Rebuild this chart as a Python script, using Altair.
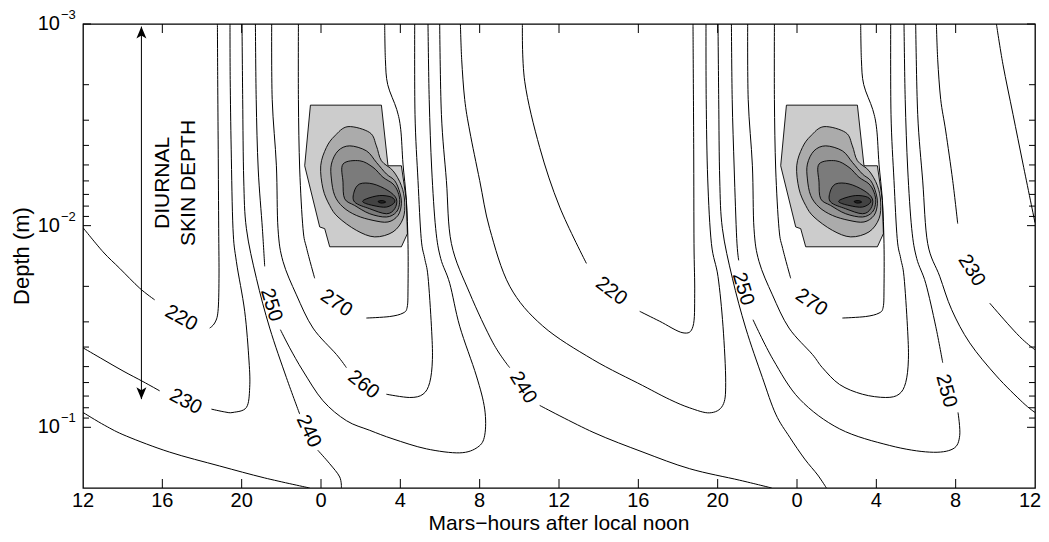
import altair as alt
import pandas as pd

W, H = 952, 464
FONT = "Liberation Sans"

# ---------------- axis values ----------------
x_tick_hours = [0, 4, 8, 12, 16, 20, 24, 28, 32, 36, 40, 44, 48]
x_tick_labels = ["12", "16", "20", "0", "4", "8", "12", "16", "20", "0", "4", "8", "12"]
y_major = [0.001, 0.01, 0.1]
y_major_exp = ["\u22123", "\u22122", "\u22121"]
y_minor = [0.002, 0.003, 0.004, 0.005, 0.006, 0.007, 0.008, 0.009,
           0.02, 0.03, 0.04, 0.05, 0.06, 0.07, 0.08, 0.09]

# ---------------- contour lines (hours after left edge, depth in m) ----------------
c220a_h = [0.0, 1.008, 1.85, 2.86, 3.615]
c220a_d = [0.01023, 0.01348, 0.01628, 0.02043, 0.02333]
c220b_h = [6.388, 6.640, 6.807, 6.857, 6.842, 6.817, 6.792, 6.777]
c220b_d = [0.0322, 0.0304, 0.0266, 0.01824, 0.01035, 0.004175, 0.001888, 0.001]
c220c_h = [22.155, 22.271, 23.027, 24.036, 25.382]
c220c_d = [0.001, 0.001924, 0.004096, 0.00809, 0.01539]
c220d_h = [28.069, 29.078, 30.252, 30.757, 30.842, 30.807, 30.792, 30.767, 30.757]
c220d_d = [0.0266, 0.0298, 0.0340, 0.03155, 0.02163, 0.01227, 0.004175, 0.001504, 0.001]
c220e_h = [46.055, 46.387, 46.891, 47.396, 48.0]
c220e_d = [0.001, 0.001592, 0.002808, 0.00495, 0.00967]

c230a_h = [0.0, 1.008, 2.017, 3.025, 3.867]
c230a_d = [0.04035, 0.04608, 0.05256, 0.05934, 0.06596]
c230b_h = [6.474, 7.145, 7.563, 8.239, 8.405, 8.370, 8.153, 7.735, 7.563, 7.472, 7.422, 7.412]
c230b_d = [0.08126, 0.0839, 0.0844, 0.0797, 0.0635, 0.0469, 0.0266, 0.0151, 0.01035, 0.004175, 0.001888, 0.001]
c230c_h = [19.029, 19.094, 19.246, 19.498, 20.002, 20.506, 21.515, 23.179, 25.699, 28.221, 29.582,
           30.590, 31.599, 32.254, 32.405, 32.269, 32.017, 31.685, 31.498, 31.422, 31.412]
c230c_d = [0.001, 0.001504, 0.002368, 0.003392, 0.005981, 0.01035, 0.01997, 0.03144, 0.04608, 0.0621, 0.0728,
           0.0801, 0.0848, 0.0779, 0.0600, 0.03155, 0.01789, 0.01227, 0.005868, 0.002368, 0.001]
c230d_h = [43.029, 43.095, 43.246, 43.498, 43.851, 44.103]
c230d_d = [0.001, 0.001504, 0.002368, 0.003392, 0.005981, 0.00977]
c230e_h = [45.717, 46.725, 47.381, 48.0]
c230e_d = [0.02423, 0.03144, 0.03673, 0.04128]

c240a_h = [0.0, 1.094, 2.203, 4.371, 6.893, 9.161, 11.430]
c240a_d = [0.0844, 0.0978, 0.1107, 0.1328, 0.1556, 0.1783, 0.2]
c240b_h = [8.017, 8.052, 8.103, 8.239, 8.743, 9.414, 10.256, 10.926]
c240b_d = [0.001, 0.002368, 0.005868, 0.01035, 0.01824, 0.0322, 0.0567, 0.086]
c240c_h = [11.834, 12.439, 12.943, 13.029]
c240c_d = [0.1298, 0.1516, 0.1763, 0.2]
c240d_h = [17.985, 18.071, 18.323, 18.575, 19.498, 20.673, 21.515]
c240d_d = [0.001, 0.002808, 0.005981, 0.01227, 0.02163, 0.03814, 0.05062]
c240e_h = [23.027, 25.715, 28.236, 30.590, 33.111, 34.725]
c240e_d = [0.0779, 0.1058, 0.1328, 0.1605, 0.183, 0.2]
c240f_h = [32.017, 32.053, 32.103, 32.239, 32.743, 33.414, 34.256, 34.927, 35.633, 36.389, 37.044, 37.483]
c240f_d = [0.001, 0.002368, 0.005868, 0.01035, 0.01824, 0.0322, 0.0567, 0.086, 0.1120, 0.1437, 0.1724, 0.2]
c240g_h = [41.985, 42.086, 42.338, 42.590, 43.195, 43.8, 44.708, 46.055, 47.381, 48.0]
c240g_d = [0.001, 0.002808, 0.006, 0.01227, 0.01783, 0.02613, 0.03814, 0.05563, 0.0753, 0.0844]

c250a_h = [8.693, 8.733, 8.834, 9.045, 9.161]
c250a_d = [0.001, 0.002368, 0.005239, 0.01035, 0.01592]
c250b_h = [9.953, 10.422, 11.093, 12.101, 13.281, 14.456, 15.630, 17.314, 18.994, 19.901, 20.254, 20.254,
           19.836, 18.994, 18.489, 18.035, 17.783, 17.582, 17.456, 17.395]
c250b_d = [0.0328, 0.04035, 0.05256, 0.07387, 0.0927, 0.1035, 0.1142, 0.1279, 0.1339, 0.1255, 0.1095, 0.08126,
           0.05563, 0.03155, 0.01931, 0.01454, 0.01035, 0.005239, 0.002368, 0.001]
c250c_h = [32.693, 32.733, 32.834, 32.960, 33.061]
c250c_d = [0.001, 0.002368, 0.005239, 0.01159, 0.01487]
c250d_h = [33.782, 34.791, 36.137, 38.154, 40.675, 42.691, 43.866, 44.204, 44.118]
c250d_d = [0.02927, 0.04608, 0.07254, 0.1019, 0.1231, 0.1328, 0.1279, 0.1099, 0.0844]
c250e_h = [43.347, 42.994, 42.490, 42.036, 41.784, 41.582, 41.456, 41.396]
c250e_d = [0.04783, 0.03155, 0.01931, 0.01454, 0.01035, 0.005239, 0.002368, 0.001]

c260a_h = [9.514, 9.540, 9.751, 9.832, 10.084, 10.760, 11.597, 12.777, 13.281]
c260a_d = [0.001, 0.002368, 0.005047, 0.01035, 0.01504, 0.02204, 0.0322, 0.04353, 0.05062]
c260b_h = [15.298, 16.472, 17.143, 17.481, 17.617, 17.567, 17.395, 17.229, 17.052, 16.891, 16.740, 16.725]
c260b_d = [0.06855, 0.07115, 0.06855, 0.0600, 0.04608, 0.03155, 0.01789, 0.01454, 0.01159, 0.005981, 0.002808, 0.001]
c260c_h = [33.514, 33.540, 33.751, 33.832, 34.084, 34.760, 35.597, 36.777, 37.281, 38.153, 39.298, 40.472,
           41.143, 41.481, 41.617, 41.567, 41.395, 41.229, 41.052, 40.891, 40.740, 40.725]
c260c_d = [0.001, 0.002368, 0.005047, 0.01035, 0.01504, 0.02204, 0.0322, 0.04353, 0.05062, 0.0614, 0.06855, 0.07115,
           0.06855, 0.0600, 0.04608, 0.03155, 0.01789, 0.01454, 0.01159, 0.005981, 0.002808, 0.001]

c270a_h = [10.861, 10.861, 10.926, 11.093, 11.279, 11.682]
c270a_d = [0.001, 0.002368, 0.005239, 0.01035, 0.01298, 0.01824]
c270b_h = [14.289, 15.464, 16.135, 16.346, 16.387, 16.387, 16.306, 16.135, 16.019, 15.817, 15.363, 15.247, 15.212]
c270b_d = [0.02872, 0.02823, 0.02714, 0.02535, 0.02043, 0.01227, 0.007506, 0.00495, 0.003328, 0.002652, 0.001997,
           0.001504, 0.001]
c270c_h = [34.861, 34.861, 34.926, 35.093, 35.279, 35.682]
c270c_d = [0.001, 0.002368, 0.005239, 0.01035, 0.01298, 0.01824]
c270d_h = [38.289, 39.464, 40.135, 40.346, 40.387, 40.387, 40.306, 40.135, 40.019, 39.817, 39.363, 39.247, 39.212]
c270d_d = [0.02872, 0.02823, 0.02714, 0.02535, 0.02043, 0.01227, 0.007506, 0.00495, 0.003328, 0.002652, 0.001997,
           0.001504, 0.001]

contour_segments = [
    ("220a", c220a_h, c220a_d), ("220b", c220b_h, c220b_d), ("220c", c220c_h, c220c_d),
    ("220d", c220d_h, c220d_d), ("220e", c220e_h, c220e_d),
    ("230a", c230a_h, c230a_d), ("230b", c230b_h, c230b_d), ("230c", c230c_h, c230c_d),
    ("230d", c230d_h, c230d_d), ("230e", c230e_h, c230e_d),
    ("240a", c240a_h, c240a_d), ("240b", c240b_h, c240b_d), ("240c", c240c_h, c240c_d),
    ("240d", c240d_h, c240d_d), ("240e", c240e_h, c240e_d), ("240f", c240f_h, c240f_d),
    ("240g", c240g_h, c240g_d),
    ("250a", c250a_h, c250a_d), ("250b", c250b_h, c250b_d), ("250c", c250c_h, c250c_d),
    ("250d", c250d_h, c250d_d), ("250e", c250e_h, c250e_d),
    ("260a", c260a_h, c260a_d), ("260b", c260b_h, c260b_d), ("260c", c260c_h, c260c_d),
    ("270a", c270a_h, c270a_d), ("270b", c270b_h, c270b_d), ("270c", c270c_h, c270c_d),
    ("270d", c270d_h, c270d_d),
]

# ---------------- contour labels ----------------
label_text = ["220", "230", "250", "270", "260", "240", "240", "220", "250", "270", "250", "230"]
label_hour = [4.96, 5.18, 9.50, 12.78, 14.15, 11.38, 22.19, 26.64, 33.28, 36.73, 43.53, 44.81]
label_depth = [0.0287, 0.0745, 0.0247, 0.0242, 0.0614, 0.1046, 0.0635, 0.0211, 0.0206, 0.0240, 0.0660, 0.01666]
label_angle = [29, 28, 73, 34, 38, 65, 58, 37, 73, 34, 75, 58]

# ---------------- shaded region (two days) ----------------
blob_outer_d = [0.002526, 0.002526, 0.005047, 0.005047, 0.007506, 0.01095, 0.01273, 0.01273, 0.01035, 0.01015, 0.005047]
blob_outer_h1 = [11.466, 15.046, 15.378, 16.054, 16.306, 16.357, 16.054, 12.439, 12.187, 11.935, 11.178]
blob_outer_h2 = [35.466, 39.046, 39.378, 40.054, 40.306, 40.357, 40.054, 36.439, 36.187, 35.935, 35.178]

blob_l2_d = [0.003228, 0.003454, 0.004021, 0.004767, 0.005341, 0.006332, 0.007644, 0.009238, 0.01074, 0.01137,
             0.01055, 0.009061, 0.007943, 0.006573, 0.005047, 0.004096, 0.003591]
blob_l2_h1 = [13.361, 14.456, 14.793, 15.046, 15.630, 16.054, 16.220, 16.135, 15.630, 14.708, 13.785, 12.857,
              12.439, 12.101, 11.985, 12.272, 12.691]
blob_l2_h2 = [37.361, 38.456, 38.793, 39.046, 39.630, 40.054, 40.220, 40.135, 39.630, 38.708, 37.785, 36.857,
              36.439, 36.101, 35.985, 36.272, 36.691]

blob_l3_d = [0.004021, 0.004257, 0.004855, 0.005544, 0.005981, 0.006823, 0.007792, 0.008899, 0.00959, 0.009417,
             0.008899, 0.00809, 0.00709, 0.005868, 0.00495, 0.004257]
blob_l3_h1 = [13.447, 14.289, 14.793, 15.298, 15.716, 15.968, 16.054, 15.883, 15.378, 14.622, 13.785, 13.110,
              12.691, 12.524, 12.524, 12.857]
blob_l3_h2 = [37.447, 38.289, 38.793, 39.298, 39.716, 39.968, 40.054, 39.883, 39.378, 38.622, 37.785, 37.110,
              36.691, 36.524, 36.524, 36.857]

blob_l4_d = [0.00495, 0.004767, 0.005138, 0.005755, 0.00621, 0.006823, 0.007644, 0.008561, 0.009061, 0.008729,
             0.007943, 0.007362, 0.006091]
blob_l4_h1 = [13.110, 13.951, 14.622, 15.126, 15.630, 15.883, 15.968, 15.802, 15.298, 14.456, 13.700, 13.195, 13.110]
blob_l4_h2 = [37.110, 37.951, 38.622, 39.126, 39.630, 39.883, 39.968, 39.802, 39.298, 38.456, 37.700, 37.195, 37.110]

blob_l5_d = [0.00621, 0.00621, 0.006701, 0.007362, 0.008246, 0.008729, 0.008246, 0.007644, 0.006823]
blob_l5_h1 = [13.951, 14.622, 15.378, 15.802, 15.716, 15.298, 14.456, 13.700, 13.664]
blob_l5_h2 = [37.951, 38.622, 39.378, 39.802, 39.716, 39.298, 38.456, 37.700, 37.664]

blob_l6_d = [0.007362, 0.00709, 0.007221, 0.007644, 0.00809, 0.007943, 0.007644]
blob_l6_h1 = [14.289, 14.960, 15.550, 15.716, 15.298, 14.622, 14.118]
blob_l6_h2 = [38.289, 38.960, 39.550, 39.716, 39.298, 38.622, 38.118]

blob_l7_d = [0.007592, 0.007506, 0.007644, 0.007731]
blob_l7_h1 = [14.874, 15.096, 15.262, 15.046]
blob_l7_h2 = [38.874, 39.096, 39.262, 39.046]

blob_levels = [
    ("#cccccc", "linear-closed", [blob_outer_h1, blob_outer_h2], blob_outer_d),
    ("#ababab", "cardinal-closed", [blob_l2_h1, blob_l2_h2], blob_l2_d),
    ("#959595", "cardinal-closed", [blob_l3_h1, blob_l3_h2], blob_l3_d),
    ("#7b7b7b", "cardinal-closed", [blob_l4_h1, blob_l4_h2], blob_l4_d),
    ("#5f5f5f", "cardinal-closed", [blob_l5_h1, blob_l5_h2], blob_l5_d),
    ("#434343", "cardinal-closed", [blob_l6_h1, blob_l6_h2], blob_l6_d),
    ("#222222", "cardinal-closed", [blob_l7_h1, blob_l7_h2], blob_l7_d),
]

# ---------------- annotation ----------------
note_text = ["DIURNAL", "SKIN DEPTH"]
note_hour = [4.02, 5.33]
note_depth = [0.00614, 0.00614]
arrow_hour = [2.945]
arrow_top = [0.00103]
arrow_bottom = [0.0725]

# ---------------- build chart ----------------
xs = alt.Scale(domain=[0, 48], nice=False, zero=False)
ys = alt.Scale(type="log", domain=[0.001, 0.2], reverse=True, nice=False)
X = alt.X("hour:Q", scale=xs, axis=None)
Y = alt.Y("depth:Q", scale=ys, axis=None)

layers = []

for color, interp, hs_list, dd in blob_levels:
    rows = []
    for k, hs in enumerate(hs_list):
        for i, (h, d) in enumerate(zip(hs, dd)):
            rows.append({"shape": k, "i": i, "hour": h, "depth": d})
    layers.append(
        alt.Chart(pd.DataFrame(rows)).mark_line(
            fill=color, stroke="black", strokeWidth=0.9, interpolate=interp, clip=True
        ).encode(X, Y, detail="shape:N", order="i:Q")
    )

rows = []
for name, hs, dd in contour_segments:
    for i, (h, d) in enumerate(zip(hs, dd)):
        rows.append({"seg": name, "i": i, "hour": h, "depth": d})
layers.append(
    alt.Chart(pd.DataFrame(rows)).mark_line(
        color="black", strokeWidth=1, interpolate="cardinal", clip=True
    ).encode(X, Y, detail="seg:N", order="i:Q")
)

label_df = pd.DataFrame({"text": label_text, "hour": label_hour, "depth": label_depth, "angle": label_angle})
layers.append(
    alt.Chart(label_df).mark_text(font=FONT, fontSize=20, align="center", baseline="middle", color="black")
    .encode(X, Y, text="text:N", angle=alt.Angle("angle:Q", scale=None))
)

note_df = pd.DataFrame({"text": note_text, "hour": note_hour, "depth": note_depth})
layers.append(
    alt.Chart(note_df).mark_text(font=FONT, fontSize=21, angle=270, align="center", baseline="middle", color="black")
    .encode(X, Y, text="text:N")
)

arrow_df = pd.DataFrame({"hour": arrow_hour, "top": arrow_top, "bottom": arrow_bottom})
layers.append(
    alt.Chart(arrow_df).mark_rule(color="black", strokeWidth=1)
    .encode(X, alt.Y("top:Q", scale=ys, axis=None), alt.Y2("bottom:Q"))
)
layers.append(
    alt.Chart(arrow_df).mark_point(shape="M0,0L-0.5,1.2L0,0.9L0.5,1.2Z", size=400, filled=True,
                                   color="black", opacity=1, strokeWidth=0)
    .encode(X, alt.Y("top:Q", scale=ys, axis=None))
)
layers.append(
    alt.Chart(arrow_df).mark_point(shape="M0,0L-0.5,-1.2L0,-0.9L0.5,-1.2Z", size=400, filled=True,
                                   color="black", opacity=1, strokeWidth=0)
    .encode(X, alt.Y("bottom:Q", scale=ys, axis=None))
)

# ticks (inward, MATLAB style)
xt_df = pd.DataFrame({"hour": x_tick_hours[1:-1]})
layers.append(alt.Chart(xt_df).mark_rule(color="black", strokeWidth=1)
              .encode(X, y=alt.value(H), y2=alt.value(H - 9)))
layers.append(alt.Chart(xt_df).mark_rule(color="black", strokeWidth=1)
              .encode(X, y=alt.value(0), y2=alt.value(9)))
ymin_df = pd.DataFrame({"depth": y_minor})
ymaj_df = pd.DataFrame({"depth": y_major, "base": ["10"] * len(y_major), "exp": y_major_exp})
for df_, ln in [(ymin_df, 6), (ymaj_df, 8)]:
    layers.append(alt.Chart(df_).mark_rule(color="black", strokeWidth=1)
                  .encode(Y, x=alt.value(0), x2=alt.value(ln)))
    layers.append(alt.Chart(df_).mark_rule(color="black", strokeWidth=1)
                  .encode(Y, x=alt.value(W - ln), x2=alt.value(W)))

# tick labels (the last one is nudged left so it stays inside the page)
xl_df = pd.DataFrame({"hour": x_tick_hours[:-1], "label": x_tick_labels[:-1]})
layers.append(alt.Chart(xl_df).mark_text(font=FONT, fontSize=20, align="center", baseline="alphabetic", color="black")
              .encode(X, y=alt.value(H + 19), text="label:N"))
xl_last = pd.DataFrame({"hour": x_tick_hours[-1:], "label": x_tick_labels[-1:]})
layers.append(alt.Chart(xl_last).mark_text(font=FONT, fontSize=20, align="center", baseline="alphabetic",
                                           color="black", dx=-5)
              .encode(X, y=alt.value(H + 19), text="label:N"))
layers.append(alt.Chart(ymaj_df).mark_text(font=FONT, fontSize=20, align="right", baseline="middle", color="black")
              .encode(Y, x=alt.value(-23), text="base:N"))
layers.append(alt.Chart(ymaj_df).mark_text(font=FONT, fontSize=13, align="left", baseline="middle", dy=-9,
                                           color="black")
              .encode(Y, x=alt.value(-22), text="exp:N"))

# axis titles
layers.append(alt.Chart(pd.DataFrame({"t": ["Mars\u2212hours after local noon"]}))
              .mark_text(font=FONT, fontSize=21, align="center", baseline="alphabetic", color="black")
              .encode(x=alt.value(W / 2), y=alt.value(H + 41.5), text="t:N"))
layers.append(alt.Chart(pd.DataFrame({"t": ["Depth (m)"]}))
              .mark_text(font=FONT, fontSize=22, angle=270, align="center", baseline="middle", color="black")
              .encode(x=alt.value(-61), y=alt.value(H / 2), text="t:N"))

chart = alt.layer(*layers).properties(
    width=W, height=H,
    autosize=alt.AutoSizeParams(type="none"),
    padding={"left": 75, "top": 16, "right": 6, "bottom": 46},
).configure_view(stroke="black", strokeWidth=1.3)

chart.save("out.html", embed_options={"renderer": "svg", "actions": False})
